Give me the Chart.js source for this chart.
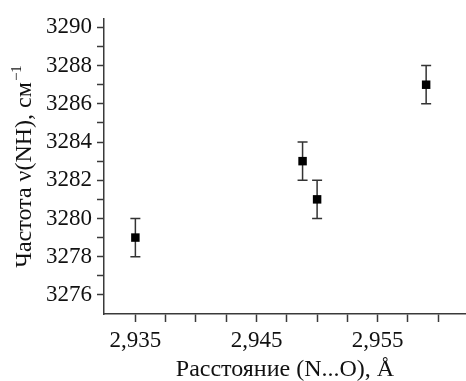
<!DOCTYPE html>
<html>
<head>
<meta charset="utf-8">
<script src="https://cdn.jsdelivr.net/npm/chart.js@4.4.1/dist/chart.umd.min.js"></script>
<style>
html,body{margin:0;padding:0;background:#fff;}
canvas{display:block;}
</style>
</head>
<body>
<canvas id="c" width="466" height="381"></canvas>
<script>
// ---- data ----
const xValues = [2.935, 2.9488, 2.950, 2.959];
const yValues = [3279, 3283, 3281, 3287];
const yErrors = [1, 1, 1, 1];

// ---- ticks ----
const xTickValues = [2.935, 2.9375, 2.94, 2.9425, 2.945, 2.9475, 2.95, 2.9525, 2.955, 2.9575, 2.96];
const xTickLabels = [2.935, 2.945, 2.955];
const yTickValues = [3276, 3277, 3278, 3279, 3280, 3281, 3282, 3283, 3284, 3285, 3286, 3287, 3288, 3289, 3290];
const yTickLabels = [3276, 3278, 3280, 3282, 3284, 3286, 3288, 3290];

const xTitle = 'Расстояние (N...O), Å';
const yTitleMain = 'Частота ν(NH), см';
const yTitleSup = '−1';

const FONT = '"Liberation Serif", "Times New Roman", serif';
const AXIS_COLOR = '#3a3a3a';

const errorBars = {
  id: 'errorBars',
  beforeDatasetsDraw(chart) {
    const {ctx, scales: {x, y}} = chart;
    ctx.save();
    ctx.strokeStyle = '#333';
    ctx.lineWidth = 1.5;
    xValues.forEach((xv, i) => {
      const px = x.getPixelForValue(xv);
      const pTop = y.getPixelForValue(yValues[i] + yErrors[i]);
      const pBot = y.getPixelForValue(yValues[i] - yErrors[i]);
      const cap = 5;
      ctx.beginPath();
      ctx.moveTo(px, pTop); ctx.lineTo(px, pBot);
      ctx.moveTo(px - cap, pTop); ctx.lineTo(px + cap, pTop);
      ctx.moveTo(px - cap, pBot); ctx.lineTo(px + cap, pBot);
      ctx.stroke();
    });
    ctx.restore();
  }
};

const yTitlePlugin = {
  id: 'yTitle',
  afterDraw(chart) {
    const ctx = chart.ctx;
    const area = chart.chartArea;
    ctx.save();
    ctx.fillStyle = '#111';
    const mainFont = '24px ' + FONT;
    const supFont = '15px ' + FONT;
    ctx.font = mainFont;
    const w1 = ctx.measureText(yTitleMain).width;
    ctx.font = supFont;
    const w2 = ctx.measureText(yTitleSup).width;
    const total = w1 + w2 + 1;
    const cx = 31, cy = (area.top + area.bottom) / 2;
    ctx.translate(cx, cy);
    ctx.rotate(-Math.PI / 2);
    ctx.textBaseline = 'alphabetic';
    ctx.textAlign = 'left';
    ctx.font = mainFont;
    ctx.fillText(yTitleMain, -total / 2, 0);
    ctx.font = supFont;
    ctx.fillText(yTitleSup, -total / 2 + w1 + 1, -10);
    ctx.restore();
  }
};

const near = (a, b) => Math.abs(a - b) < 1e-6;

new Chart(document.getElementById('c'), {
  type: 'scatter',
  data: {
    datasets: [{
      data: xValues.map((v, i) => ({x: v, y: yValues[i]})),
      pointStyle: 'rect',
      pointRadius: 6,
      pointHoverRadius: 6,
      backgroundColor: '#000',
      borderColor: '#000',
      borderWidth: 0,
      clip: false
    }]
  },
  options: {
    responsive: false,
    animation: false,
    events: [],
    layout: {autoPadding: false, padding: {top: 15, right: 0, left: 0, bottom: 0}},
    plugins: {legend: {display: false}, tooltip: {enabled: false}},
    scales: {
      x: {
        type: 'linear',
        min: 2.93241,
        max: 2.96229,
        afterBuildTicks: s => { s.ticks = xTickValues.map(v => ({value: v})); },
        afterFit: s => { s.height = 67; s.paddingLeft = 0; s.paddingRight = 0; },
        grid: {drawOnChartArea: false, drawTicks: true, tickLength: 8, tickWidth: 1.5, tickColor: AXIS_COLOR},
        border: {display: true, color: AXIS_COLOR, width: 1.5},
        ticks: {
          autoSkip: false, maxRotation: 0, padding: 5, color: '#111',
          font: {family: FONT, size: 23},
          callback: v => xTickLabels.some(t => near(t, v)) ? v.toFixed(3).replace('.', ',') : ''
        },
        title: {display: true, text: xTitle, color: '#111', font: {family: FONT, size: 24}, padding: {top: 0, bottom: -3}}
      },
      y: {
        type: 'linear',
        min: 3275,
        max: 3290.45,
        afterBuildTicks: s => { s.ticks = yTickValues.map(v => ({value: v})); },
        afterFit: s => { s.width = 104; },
        grid: {drawOnChartArea: false, drawTicks: true, tickLength: 7, tickWidth: 1.5, tickColor: AXIS_COLOR},
        border: {display: true, color: AXIS_COLOR, width: 1.5},
        ticks: {
          autoSkip: false, padding: 5, color: '#111',
          font: {family: FONT, size: 23},
          callback: v => yTickLabels.some(t => near(t, v)) ? String(v) : ''
        }
      }
    }
  },
  plugins: [errorBars, yTitlePlugin]
});
</script>
</body>
</html>
